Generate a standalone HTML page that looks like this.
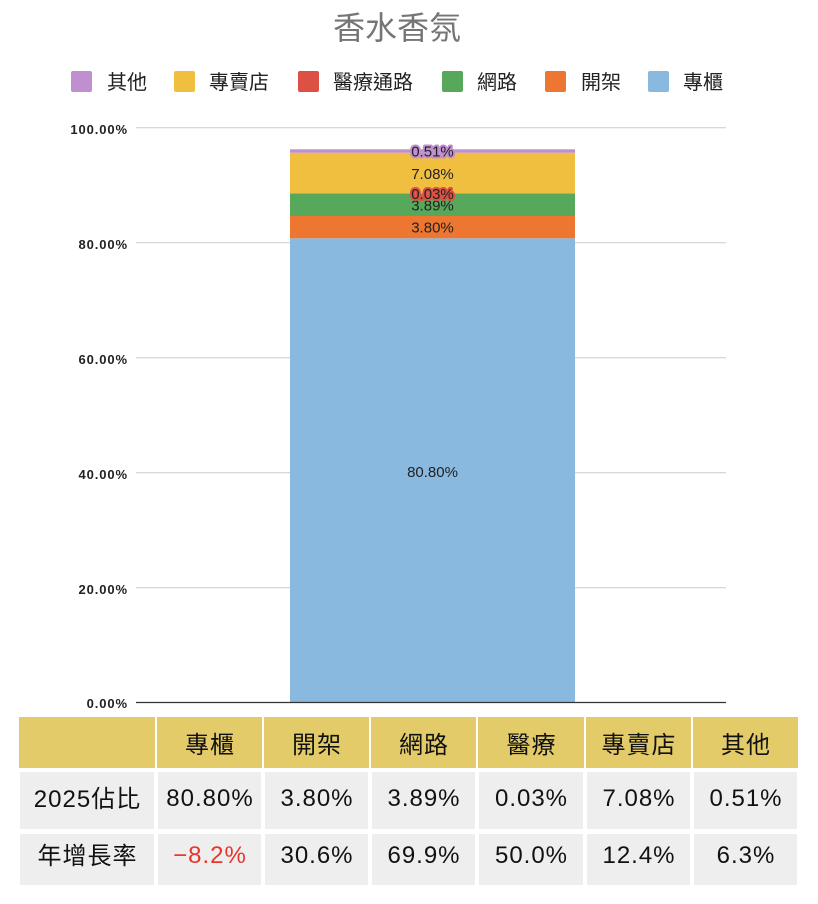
<!DOCTYPE html>
<html>
<head>
<meta charset="utf-8">
<style>
  html, body { margin: 0; padding: 0; background: #ffffff; }
  body { width: 818px; height: 904px; overflow: hidden; }
  svg { display: block; }
  .cjk { font-family: "Liberation Sans", "Noto Sans CJK TC", sans-serif; }
</style>
</head>
<body>
<svg width="818" height="904" viewBox="0 0 818 904" xmlns="http://www.w3.org/2000/svg">
  <rect x="0" y="0" width="818" height="904" fill="#ffffff"/>

  <!-- Title -->
  <text x="397" y="39" text-anchor="middle" class="cjk" font-size="32" fill="#757575">香水香氛</text>

  <!-- Legend -->
  <g class="cjk" font-size="20" fill="#222222">
    <rect x="71" y="71" width="21" height="21" rx="2" fill="#c08fcf"/>
    <text x="107" y="89">其他</text>
    <rect x="174" y="71" width="21" height="21" rx="2" fill="#f1bf40"/>
    <text x="209" y="89">專賣店</text>
    <rect x="298" y="71" width="21" height="21" rx="2" fill="#dd5044"/>
    <text x="333" y="89">醫療通路</text>
    <rect x="442" y="71" width="21" height="21" rx="2" fill="#57a85b"/>
    <text x="477" y="89">網路</text>
    <rect x="545" y="71" width="21" height="21" rx="2" fill="#ed7630"/>
    <text x="581" y="89">開架</text>
    <rect x="648" y="71" width="21" height="21" rx="2" fill="#8ab9e0"/>
    <text x="683" y="89">專櫃</text>
  </g>

  <!-- Gridlines -->
  <g stroke="#cccccc" stroke-width="1">
    <line x1="136" y1="127.7" x2="726" y2="127.7"/>
    <line x1="136" y1="242.7" x2="726" y2="242.7"/>
    <line x1="136" y1="357.7" x2="726" y2="357.7"/>
    <line x1="136" y1="472.7" x2="726" y2="472.7"/>
    <line x1="136" y1="587.7" x2="726" y2="587.7"/>
  </g>

  <!-- Y labels -->
  <g font-family="Liberation Sans, sans-serif" font-size="13" font-weight="bold" fill="#222222" text-anchor="end" letter-spacing="0.9">
    <text x="128" y="134">100.00%</text>
    <text x="128" y="249">80.00%</text>
    <text x="128" y="364">60.00%</text>
    <text x="128" y="479">40.00%</text>
    <text x="128" y="594">20.00%</text>
    <text x="128" y="708">0.00%</text>
  </g>

  <!-- Bar segments -->
  <rect x="290" y="238.3" width="285" height="464" fill="#8ab9e0"/>
  <rect x="290" y="216" width="285" height="22.3" fill="#ed7630"/>
  <rect x="290" y="193.6" width="285" height="22.4" fill="#57a85b"/>
  <rect x="290" y="193.3" width="285" height="0.4" fill="#dd5044"/>
  <rect x="290" y="152.7" width="285" height="40.7" fill="#f1bf40"/>
  <rect x="290" y="149.3" width="285" height="3.4" fill="#c08fcf"/>

  <!-- Axis baseline -->
  <line x1="136" y1="702.5" x2="726" y2="702.5" stroke="#333333" stroke-width="1.2"/>

  <!-- Bar labels -->
  <g font-family="Liberation Sans, sans-serif" font-size="15" fill="#222222" text-anchor="middle">
    <text x="432.5" y="477">80.80%</text>
    <text x="432.5" y="232.7">3.80%</text>
    <text x="432.5" y="210.5">3.89%</text>
    <text x="432.5" y="199" stroke="#dd5044" stroke-width="4" stroke-linejoin="round" paint-order="stroke">0.03%</text>
    <text x="432.5" y="179">7.08%</text>
    <text x="432.5" y="156.7" stroke="#c08fcf" stroke-width="4" stroke-linejoin="round" paint-order="stroke">0.51%</text>
  </g>

  <!-- Table header -->
  <g fill="#e2cb68">
    <rect x="19" y="717" width="136" height="51"/>
    <rect x="157" y="717" width="105" height="51"/>
    <rect x="264" y="717" width="105" height="51"/>
    <rect x="371" y="717" width="105" height="51"/>
    <rect x="478" y="717" width="106" height="51"/>
    <rect x="586" y="717" width="105" height="51"/>
    <rect x="693" y="717" width="105" height="51"/>
  </g>
  <!-- Table body -->
  <g fill="#eeeeee">
    <rect x="20" y="772" width="134" height="57"/>
    <rect x="158" y="772" width="103" height="57"/>
    <rect x="265" y="772" width="103" height="57"/>
    <rect x="372" y="772" width="103" height="57"/>
    <rect x="479" y="772" width="104" height="57"/>
    <rect x="587" y="772" width="103" height="57"/>
    <rect x="694" y="772" width="103" height="57"/>

    <rect x="20" y="834" width="134" height="51"/>
    <rect x="158" y="834" width="103" height="51"/>
    <rect x="265" y="834" width="103" height="51"/>
    <rect x="372" y="834" width="103" height="51"/>
    <rect x="479" y="834" width="104" height="51"/>
    <rect x="587" y="834" width="103" height="51"/>
    <rect x="694" y="834" width="103" height="51"/>
  </g>

  <g class="cjk" font-size="24" fill="#111111" text-anchor="middle" letter-spacing="1">
    <text x="210" y="753">專櫃</text>
    <text x="317" y="753">開架</text>
    <text x="424" y="753">網路</text>
    <text x="531.5" y="753">醫療</text>
    <text x="639" y="753">專賣店</text>
    <text x="746" y="753">其他</text>

    <text x="87.5" y="807">2025佔比</text>
    <text x="210" y="806">80.80%</text>
    <text x="317" y="806">3.80%</text>
    <text x="424" y="806">3.89%</text>
    <text x="531.5" y="806">0.03%</text>
    <text x="639" y="806">7.08%</text>
    <text x="746" y="806">0.51%</text>

    <text x="87.5" y="864">年增長率</text>
    <text x="210" y="863" fill="#e8352b">−8.2%</text>
    <text x="317" y="863">30.6%</text>
    <text x="424" y="863">69.9%</text>
    <text x="531.5" y="863">50.0%</text>
    <text x="639" y="863">12.4%</text>
    <text x="746" y="863">6.3%</text>
  </g>
</svg>
</body>
</html>
